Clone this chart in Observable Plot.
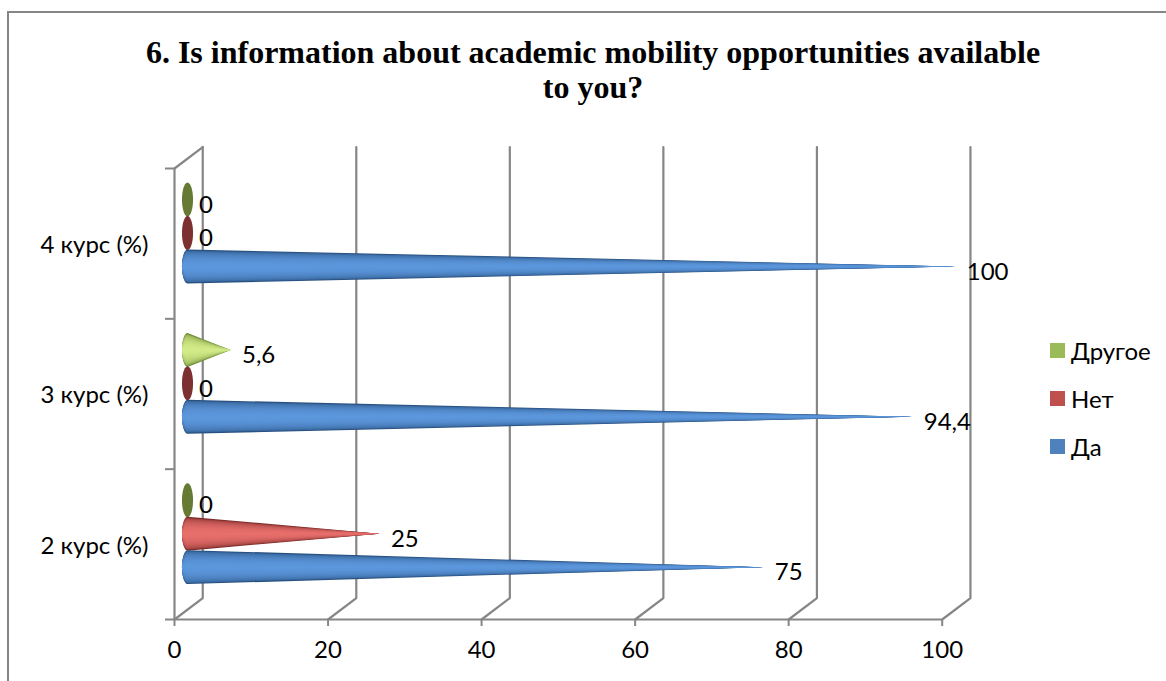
<!DOCTYPE html>
<html>
<head>
<meta charset="utf-8">
<script src="https://cdn.jsdelivr.net/npm/d3@7"></script>
<script src="https://cdn.jsdelivr.net/npm/@observablehq/plot@0.6"></script>
<style>
  html, body { margin: 0; padding: 0; background: #fff; overflow: hidden; }
  #chart { position: relative; width: 1166px; height: 681px; overflow: hidden; }
  #frame { position: absolute; left: 7px; top: 11px; width: 1200px; height: 700px; border: 2px solid #868686; box-sizing: border-box; }
  #title { position: absolute; left: 7px; width: 1172px; top: 35px; text-align: center; font: bold 32px/35px "Liberation Serif", serif; color: #000; margin: 0; }
  #plot { position: absolute; left: 0; top: 130px; }
  #legend { position: absolute; left: 1050px; top: 326px; font: 24px Lato, "Open Sans", sans-serif; color: #000; }
  .row { display: flex; align-items: center; height: 48px; }
  .sw { width: 15px; height: 15px; margin-right: 6px; }
  svg text { font-family: Lato, "Open Sans", sans-serif; }
</style>
</head>
<body>
<div id="chart">
  <div id="frame"></div>
  <h1 id="title">6. Is information about academic mobility opportunities available<br>to you?</h1>
  <div id="plot"></div>
  <div id="legend"></div>
</div>
<script>
const categories = ["2 курс (%)", "3 курс (%)", "4 курс (%)"];
const seriesNames = ["Да", "Нет", "Другое"];
const da = [75, 94.4, 100];
const net = [25, 0, 0];
const drugoe = [0, 5.6, 0];
const valueLabels = [["75", "94,4", "100"], ["25", "0", "0"], ["0", "5,6", "0"]];
const xTicks = [0, 20, 40, 60, 80, 100];
const legendColors = ["#4f81bd", "#c0504d", "#9bbb59"];
const coneEdge = ["#28507f", "#7c2b2a", "#6d8a36"];
const coneCore = ["#5c97dc", "#e76f6c", "#d2ea88"];
const zeroColor = ["#3b659b", "#7c3130", "#667a33"];

// 3D-look geometry, in data units
const barDepth = 1.76, backDx = 3.68, backDy = 0.143;
const slot0 = 0.345, slotStep = 0.2225, coneH = 0.113, baseRx = 0.72, layers = 14;
const series = [da, net, drugoe];

function outline(value, c, f) {
  const cx = barDepth, pts = [];
  const steps = 16;
  for (let i = 0; i <= steps; i++) {
    const a = Math.PI / 2 * (i / steps);
    const dx = -Math.cos(a) * baseRx, hh = Math.sin(a) * coneH * f;
    pts.push({x: cx + dx, y1: c - hh, y2: c + hh});
  }
  if (value === 0) {
    for (let i = steps - 1; i >= 0; i--) {
      const a = Math.PI / 2 * (i / steps);
      const dx = Math.cos(a) * baseRx, hh = Math.sin(a) * coneH * f;
      pts.push({x: cx + dx, y1: c - hh, y2: c + hh});
    }
  } else {
    pts.push({x: cx + value, y1: c, y2: c});
  }
  return pts;
}

const coneMarks = [];
series.forEach((vals, s) => {
  vals.forEach((v, k) => {
    const c = k + slot0 + s * slotStep;
    if (v === 0) {
      coneMarks.push({s, k, c, v, f: 1, color: zeroColor[s]});
    } else {
      const mix = d3.interpolateRgb(coneEdge[s], coneCore[s]);
      for (let l = 0; l < layers; l++) {
        const f = 1 - l / layers;
        coneMarks.push({s, k, c, v, f, color: mix(Math.sqrt(1 - f * f))});
      }
    }
  });
});
// draw order: upper slots first, lower ones on top
const stableOrder = coneMarks.sort((a, b) => (b.c - a.c));

const labelRows = [];
series.forEach((vals, s) => vals.forEach((v, k) => labelRows.push({
  x: barDepth + v, y: k + slot0 + s * slotStep, t: valueLabels[s][k]
})));

const grid = xTicks.map(t => [[t, 0], [t + backDx, backDy], [t + backDx, 3 + backDy]]);
const topEdge = [[0, 3], [backDx, 3 + backDy]];
const axisGray = "#868686";

const chart = Plot.plot({
  width: 1166, height: 551,
  marginLeft: 174, marginRight: 224.3, marginTop: 38, marginBottom: 62,
  x: {domain: [0, 100]},
  y: {domain: [0, 3]},
  marks: [
    ...grid.map(g => Plot.line(g, {x: d => d[0], y: d => d[1], stroke: axisGray, strokeWidth: 2.2})),
    Plot.line(topEdge, {x: d => d[0], y: d => d[1], stroke: axisGray, strokeWidth: 2.2}),
    Plot.ruleX([0], {y1: 0, y2: 3, stroke: axisGray, strokeWidth: 2.2}),
    Plot.ruleY([0], {x1: 0, x2: 100, stroke: axisGray, strokeWidth: 2.2}),
    Plot.axisX({ticks: xTicks, tickSize: 7, tickPadding: 14, fontSize: 24, stroke: axisGray, strokeWidth: 2, color: "#000", label: null, tickFormat: d => String(d)}),
    Plot.axisY({ticks: [0, 1, 2, 3], tickSize: 9, stroke: axisGray, strokeWidth: 2, tickFormat: () => "", label: null}),
    Plot.axisY({ticks: [0.5, 1.5, 2.5], tickSize: 0, tickPadding: 26, fontSize: 24, color: "#000", label: null, dy: 1.5, tickFormat: d => categories[Math.floor(d)]}),
    ...stableOrder.map(m => Plot.area(outline(m.v, m.c, m.f), {x1: "x", y1: "y1", y2: "y2", fill: m.color, curve: "linear"})),
    Plot.text(labelRows, {x: "x", y: "y", text: "t", textAnchor: "start", dx: 11, dy: 5, fontSize: 24, fill: "#000"})
  ]
});
document.getElementById("plot").appendChild(chart);

const legend = document.getElementById("legend");
[2, 1, 0].forEach(i => {
  const row = document.createElement("div");
  row.className = "row";
  const sw = document.createElement("div");
  sw.className = "sw";
  sw.style.background = legendColors[i];
  row.appendChild(sw);
  row.appendChild(document.createTextNode(seriesNames[i]));
  legend.appendChild(row);
});
</script>
</body>
</html>
